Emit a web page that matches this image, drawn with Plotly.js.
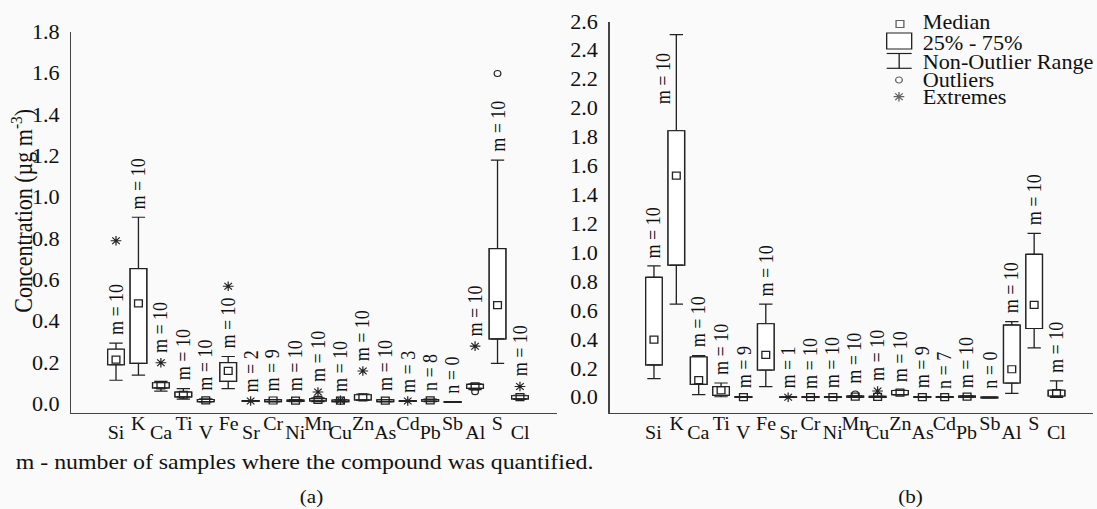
<!DOCTYPE html>
<html><head><meta charset="utf-8">
<script src="https://cdn.plot.ly/plotly-3.0.1.min.js"></script>
<style>
html,body{margin:0;padding:0;background:#fafafa;overflow:hidden}
#chart{width:988px;height:509px;transform:scaleX(1.1103);transform-origin:0 0;}
</style></head><body><div id="chart"></div>
<script>
// ---------- data ----------
const categories = ['Si','K','Ca','Ti','V','Fe','Sr','Cr','Ni','Mn','Cu','Zn','As','Cd','Pb','Sb','Al','S','Cl'];

// panel (a)
const a_q1     = [0.19, 0.197, 0.078, 0.035, 0.012, 0.11, 0.013, 0.012, 0.013, 0.015, 0.012, 0.02, 0.012, 0.013, 0.014, 0.008, 0.076, 0.315, 0.025];
const a_median = [0.215, 0.487, 0.09, 0.045, 0.018, 0.16, null, 0.017, 0.016, 0.02, 0.016, 0.032, 0.016, null, 0.018, null, 0.085, 0.479, 0.033];
const a_q3     = [0.265, 0.655, 0.103, 0.058, 0.022, 0.20, 0.016, 0.02, 0.019, 0.026, 0.019, 0.045, 0.02, 0.016, 0.022, 0.012, 0.095, 0.752, 0.04];
const a_low    = [0.115, 0.14, 0.062, 0.024, 0.01, 0.075, 0.013, 0.011, 0.012, 0.012, 0.012, 0.018, 0.011, 0.013, 0.012, 0.008, 0.07, 0.197, 0.022];
const a_high   = [0.295, 0.904, 0.11, 0.075, 0.025, 0.23, 0.016, 0.022, 0.021, 0.03, 0.02, 0.048, 0.022, 0.016, 0.024, 0.012, 0.098, 1.18, 0.042];
const a_outliers = [[],[],[],[],[],[],[],[],[],[],[],[],[],[],[],[],[0.06],[1.60],[]];
const a_extremes = [[0.79],[],[0.20],[],[],[0.57],[0.015],[],[],[0.058],[0.018],[0.16],[],[0.015],[],[],[0.28],[],[0.085]];
const a_labels = ['m = 10','m = 10','m = 10','m = 10','m = 10','m = 10','m = 2','m = 9','m = 10','m = 10','m = 10','m = 10','m = 10','m = 3','n = 8','n = 0','m = 10','m = 10','m = 10'];
const a_yticks = [0, 0.2, 0.4, 0.6, 0.8, 1.0, 1.2, 1.4, 1.6, 1.8];

// panel (b)
const b_q1     = [0.225, 0.915, 0.09, 0.015, 0.0, 0.19, 0.0, 0.0, 0.0, 0.002, 0.0, 0.02, 0.0, 0.0, 0.002, -0.003, 0.10, 0.477, 0.01];
const b_median = [0.40, 1.535, 0.12, 0.05, 0.003, 0.295, null, 0.003, 0.003, 0.006, 0.004, 0.033, 0.003, 0.003, 0.006, null, 0.195, 0.64, 0.03];
const b_q3     = [0.83, 1.845, 0.28, 0.075, 0.006, 0.51, 0.005, 0.006, 0.006, 0.01, 0.007, 0.048, 0.006, 0.006, 0.01, 0.003, 0.50, 0.99, 0.05];
const b_low    = [0.13, 0.645, 0.02, 0.005, 0.0, 0.075, 0.0, 0.0, 0.0, 0.0, 0.0, 0.018, 0.0, 0.0, 0.0, -0.003, 0.028, 0.343, 0.0];
const b_high   = [0.91, 2.51, 0.29, 0.10, 0.006, 0.645, 0.005, 0.006, 0.006, 0.012, 0.008, 0.05, 0.006, 0.006, 0.012, 0.003, 0.525, 1.135, 0.115];
const b_outliers = [[],[],[],[],[],[],[],[],[],[0.024],[],[],[],[],[],[],[],[],[]];
const b_extremes = [[],[],[],[],[],[],[0.002],[],[],[],[0.045],[],[],[],[],[],[],[],[]];
const b_labels = ['m = 10','m = 10','m = 10','m = 10','m = 9','m = 10','m = 1','m = 10','m = 10','m = 10','m = 10','m = 10','m = 9','n = 7','m = 10','n = 0','m = 10','m = 10','m = 10'];
const b_yticks = [0, 0.2, 0.4, 0.6, 0.8, 1.0, 1.2, 1.4, 1.6, 1.8, 2.0, 2.2, 2.4, 2.6];

const legendItems = ['Median', '25% - 75%', 'Non-Outlier Range', 'Outliers', 'Extremes'];
const yTitle = 'Concentration (µg m<sup>-3</sup>)';
const footnote = 'm - number of samples where the compound was quantified.';
const panelTags = ['(a)', '(b)'];

// ---------- style / layout helpers ----------
const FONT = 'Liberation Serif';
const INK = '#222';
const W = 1097, H = 509;
const px = x => x / W;        // reference pixel -> paper fraction
const py = y => 1 - y / H;

function boxTraces(q1, med, q3, lo, hi, outl, extr, xa, ya) {
  const idx = categories.map((_, i) => i);
  const common = {type: 'bar', x: idx, width: 0.74, xaxis: xa, yaxis: ya, hoverinfo: 'skip', showlegend: false,
    marker: {color: 'white', line: {color: INK, width: 1.2}}};
  const up = Object.assign({}, common, {
    base: q1, y: q3.map((v, i) => v - q1[i]),
    error_y: {type: 'data', symmetric: false, array: hi.map((v, i) => Math.max(0, v - q3[i])),
      arrayminus: idx.map(() => 0), width: 6, thickness: 1.2, color: INK}
  });
  const down = Object.assign({}, common, {
    base: q3, y: q1.map((v, i) => v - q3[i]),
    error_y: {type: 'data', symmetric: false, array: idx.map(() => 0),
      arrayminus: lo.map((v, i) => Math.max(0, q1[i] - v)), width: 6, thickness: 1.2, color: INK}
  });
  const mx = [], my = [];
  med.forEach((v, i) => { if (v !== null) { mx.push(i); my.push(v); } });
  const medians = {type: 'scatter', mode: 'markers', x: mx, y: my, xaxis: xa, yaxis: ya, hoverinfo: 'skip', showlegend: false,
    marker: {symbol: 'square-open', size: 7, color: INK, line: {width: 1.2}}};
  const ox = [], oy = [];
  outl.forEach((arr, i) => arr.forEach(v => { ox.push(i); oy.push(v); }));
  const outliers = {type: 'scatter', mode: 'markers', x: ox, y: oy, xaxis: xa, yaxis: ya, hoverinfo: 'skip', showlegend: false,
    marker: {symbol: 'circle-open', size: 6, color: INK, line: {width: 1.1}}};
  const ex = [], ey = [];
  extr.forEach((arr, i) => arr.forEach(v => { ex.push(i); ey.push(v); }));
  const extremes = {type: 'scatter', mode: 'markers', x: ex, y: ey, xaxis: xa, yaxis: ya, hoverinfo: 'skip', showlegend: false,
    marker: {symbol: 'asterisk-open', size: 8, color: INK, line: {width: 1.1, color: INK}}};
  return [up, down, medians, outliers, extremes];
}

function mLabels(labels, q3, hi, outl, extr, xref, yref, pxPerUnit, yMax) {
  const LEN = 58; // approximate label length in px
  return labels.map((t, i) => {
    const top = Math.max(q3[i], hi[i]);
    const pts = outl[i].concat(extr[i]);
    let anchor = top, shift = 6;
    if (pts.length) {
      const m = Math.max(...pts);
      if (m > top && (m - top) * pxPerUnit < LEN + 4) { anchor = m; shift = 8; }
    }
    const ann = {text: t, x: i, y: anchor, xref: xref, yref: yref, textangle: -90, showarrow: false,
      font: {family: FONT, size: 18, color: '#111'}, xanchor: 'center', yanchor: 'bottom', yshift: shift};
    if (anchor + LEN / pxPerUnit > yMax) { ann.yanchor = 'top'; ann.yshift = -17; ann.xshift = -12; }
    return ann;
  });
}

function catLabels(xref) {
  return categories.map((c, i) => ({text: c, x: i, xref: xref, yref: 'paper', y: py(i % 2 ? 424 : 433),
    xanchor: 'center', yanchor: 'middle', showarrow: false, font: {family: FONT, size: 18, color: '#111'}}));
}

const aYRange = [-0.041, 1.8005], bYRange = [-0.104, 2.6005];
const aPx = (404 - 32) / 1.8, bPx = (397.5 - 21.5) / 2.6;

const traces = [].concat(
  boxTraces(a_q1, a_median, a_q3, a_low, a_high, a_outliers, a_extremes, 'x', 'y'),
  boxTraces(b_q1, b_median, b_q3, b_low, b_high, b_outliers, b_extremes, 'x2', 'y2')
);

// legend marks on an overlay axis measured in reference pixels
traces.push({type: 'scatter', mode: 'markers', x: [900, 899, 899], y: [24, 80, 96.7], xaxis: 'x3', yaxis: 'y3',
  hoverinfo: 'skip', showlegend: false, cliponaxis: false,
  marker: {symbol: ['square-open', 'circle-open', 'asterisk-open'], size: [7, 6, 8], color: INK, line: {width: 1.2, color: INK}}});

const legendY = [21.7, 42.7, 62.3, 80, 96.7];
const annotations = [].concat(
  mLabels(a_labels, a_q3, a_high, a_outliers, a_extremes, 'x', 'y', aPx, aYRange[1]),
  mLabels(b_labels, b_q3, b_high, b_outliers, b_extremes, 'x2', 'y2', bPx, bYRange[1]),
  catLabels('x'), catLabels('x2'),
  legendItems.map((t, i) => ({text: t, xref: 'paper', yref: 'paper', x: px(920.5), y: py(legendY[i]),
    xanchor: 'left', yanchor: 'middle', showarrow: false, font: {family: FONT, size: 20, color: '#111'}})),
  [{text: yTitle, xref: 'paper', yref: 'paper', x: px(22), y: py(211), textangle: -90, xanchor: 'center', yanchor: 'middle',
     showarrow: false, font: {family: FONT, size: 22, color: '#111'}},
   {text: footnote, xref: 'paper', yref: 'paper', x: px(13), y: py(462), xanchor: 'left', yanchor: 'middle',
     showarrow: false, font: {family: FONT, size: 21.5, color: '#111'}},
   {text: panelTags[0], xref: 'paper', yref: 'paper', x: px(311), y: py(497), xanchor: 'center', yanchor: 'middle',
     showarrow: false, font: {family: FONT, size: 19, color: '#111'}},
   {text: panelTags[1], xref: 'paper', yref: 'paper', x: px(910), y: py(497), xanchor: 'center', yanchor: 'middle',
     showarrow: false, font: {family: FONT, size: 19, color: '#111'}}]
);

const lw = 1.2;
const shapes = [
  {type: 'rect', xref: 'paper', yref: 'paper', x0: px(886.7), x1: px(911.7), y0: py(33), y1: py(49), line: {color: INK, width: lw}, fillcolor: 'white'},
  {type: 'line', xref: 'paper', yref: 'paper', x0: px(886.7), x1: px(911.7), y0: py(53.5), y1: py(53.5), line: {color: INK, width: lw}},
  {type: 'line', xref: 'paper', yref: 'paper', x0: px(899.2), x1: px(899.2), y0: py(53.5), y1: py(68.3), line: {color: INK, width: lw}},
  {type: 'line', xref: 'paper', yref: 'paper', x0: px(886.7), x1: px(911.7), y0: py(68.3), y1: py(68.3), line: {color: INK, width: lw}}
];

function yAxis(domainTop, range, ticks, anchor) {
  return {domain: [py(412.5), py(domainTop)], range: range, anchor: anchor, tickmode: 'array', tickvals: ticks,
    ticktext: ticks.map(v => v.toFixed(1)), ticks: '', ticklabelstandoff: 5, showline: true, linecolor: '#444', linewidth: 1.6,
    showgrid: false, zeroline: false, tickfont: {family: FONT, size: 20, color: '#111'}, fixedrange: true};
}
function xAxis(x0, x1, range, anchor) {
  return {domain: [px(x0), px(x1)], range: range, anchor: anchor, showline: true, linecolor: '#444', linewidth: 1.6,
    showticklabels: false, ticks: '', showgrid: false, zeroline: false, fixedrange: true};
}

const layout = {
  width: 988, height: 509, margin: {l: 0, r: 0, t: 0, b: 0},
  paper_bgcolor: '#fafafa', plot_bgcolor: 'rgba(0,0,0,0)',
  font: {family: FONT, color: '#111'},
  showlegend: false, barmode: 'overlay',
  xaxis: xAxis(71.5, 557, [-1.983, 19.65], 'y'),
  yaxis: yAxis(32, aYRange, a_yticks, 'x'),
  xaxis2: xAxis(609.7, 1093, [-1.98, 19.63], 'y2'),
  yaxis2: yAxis(21.5, bYRange, b_yticks, 'x2'),
  xaxis3: {domain: [0, 1], range: [0, W], anchor: 'y3', visible: false, fixedrange: true},
  yaxis3: {domain: [0, 1], range: [H, 0], anchor: 'x3', visible: false, fixedrange: true},
  annotations: annotations, shapes: shapes
};

Plotly.newPlot('chart', traces, layout, {staticPlot: true, displayModeBar: false});
</script></body></html>
